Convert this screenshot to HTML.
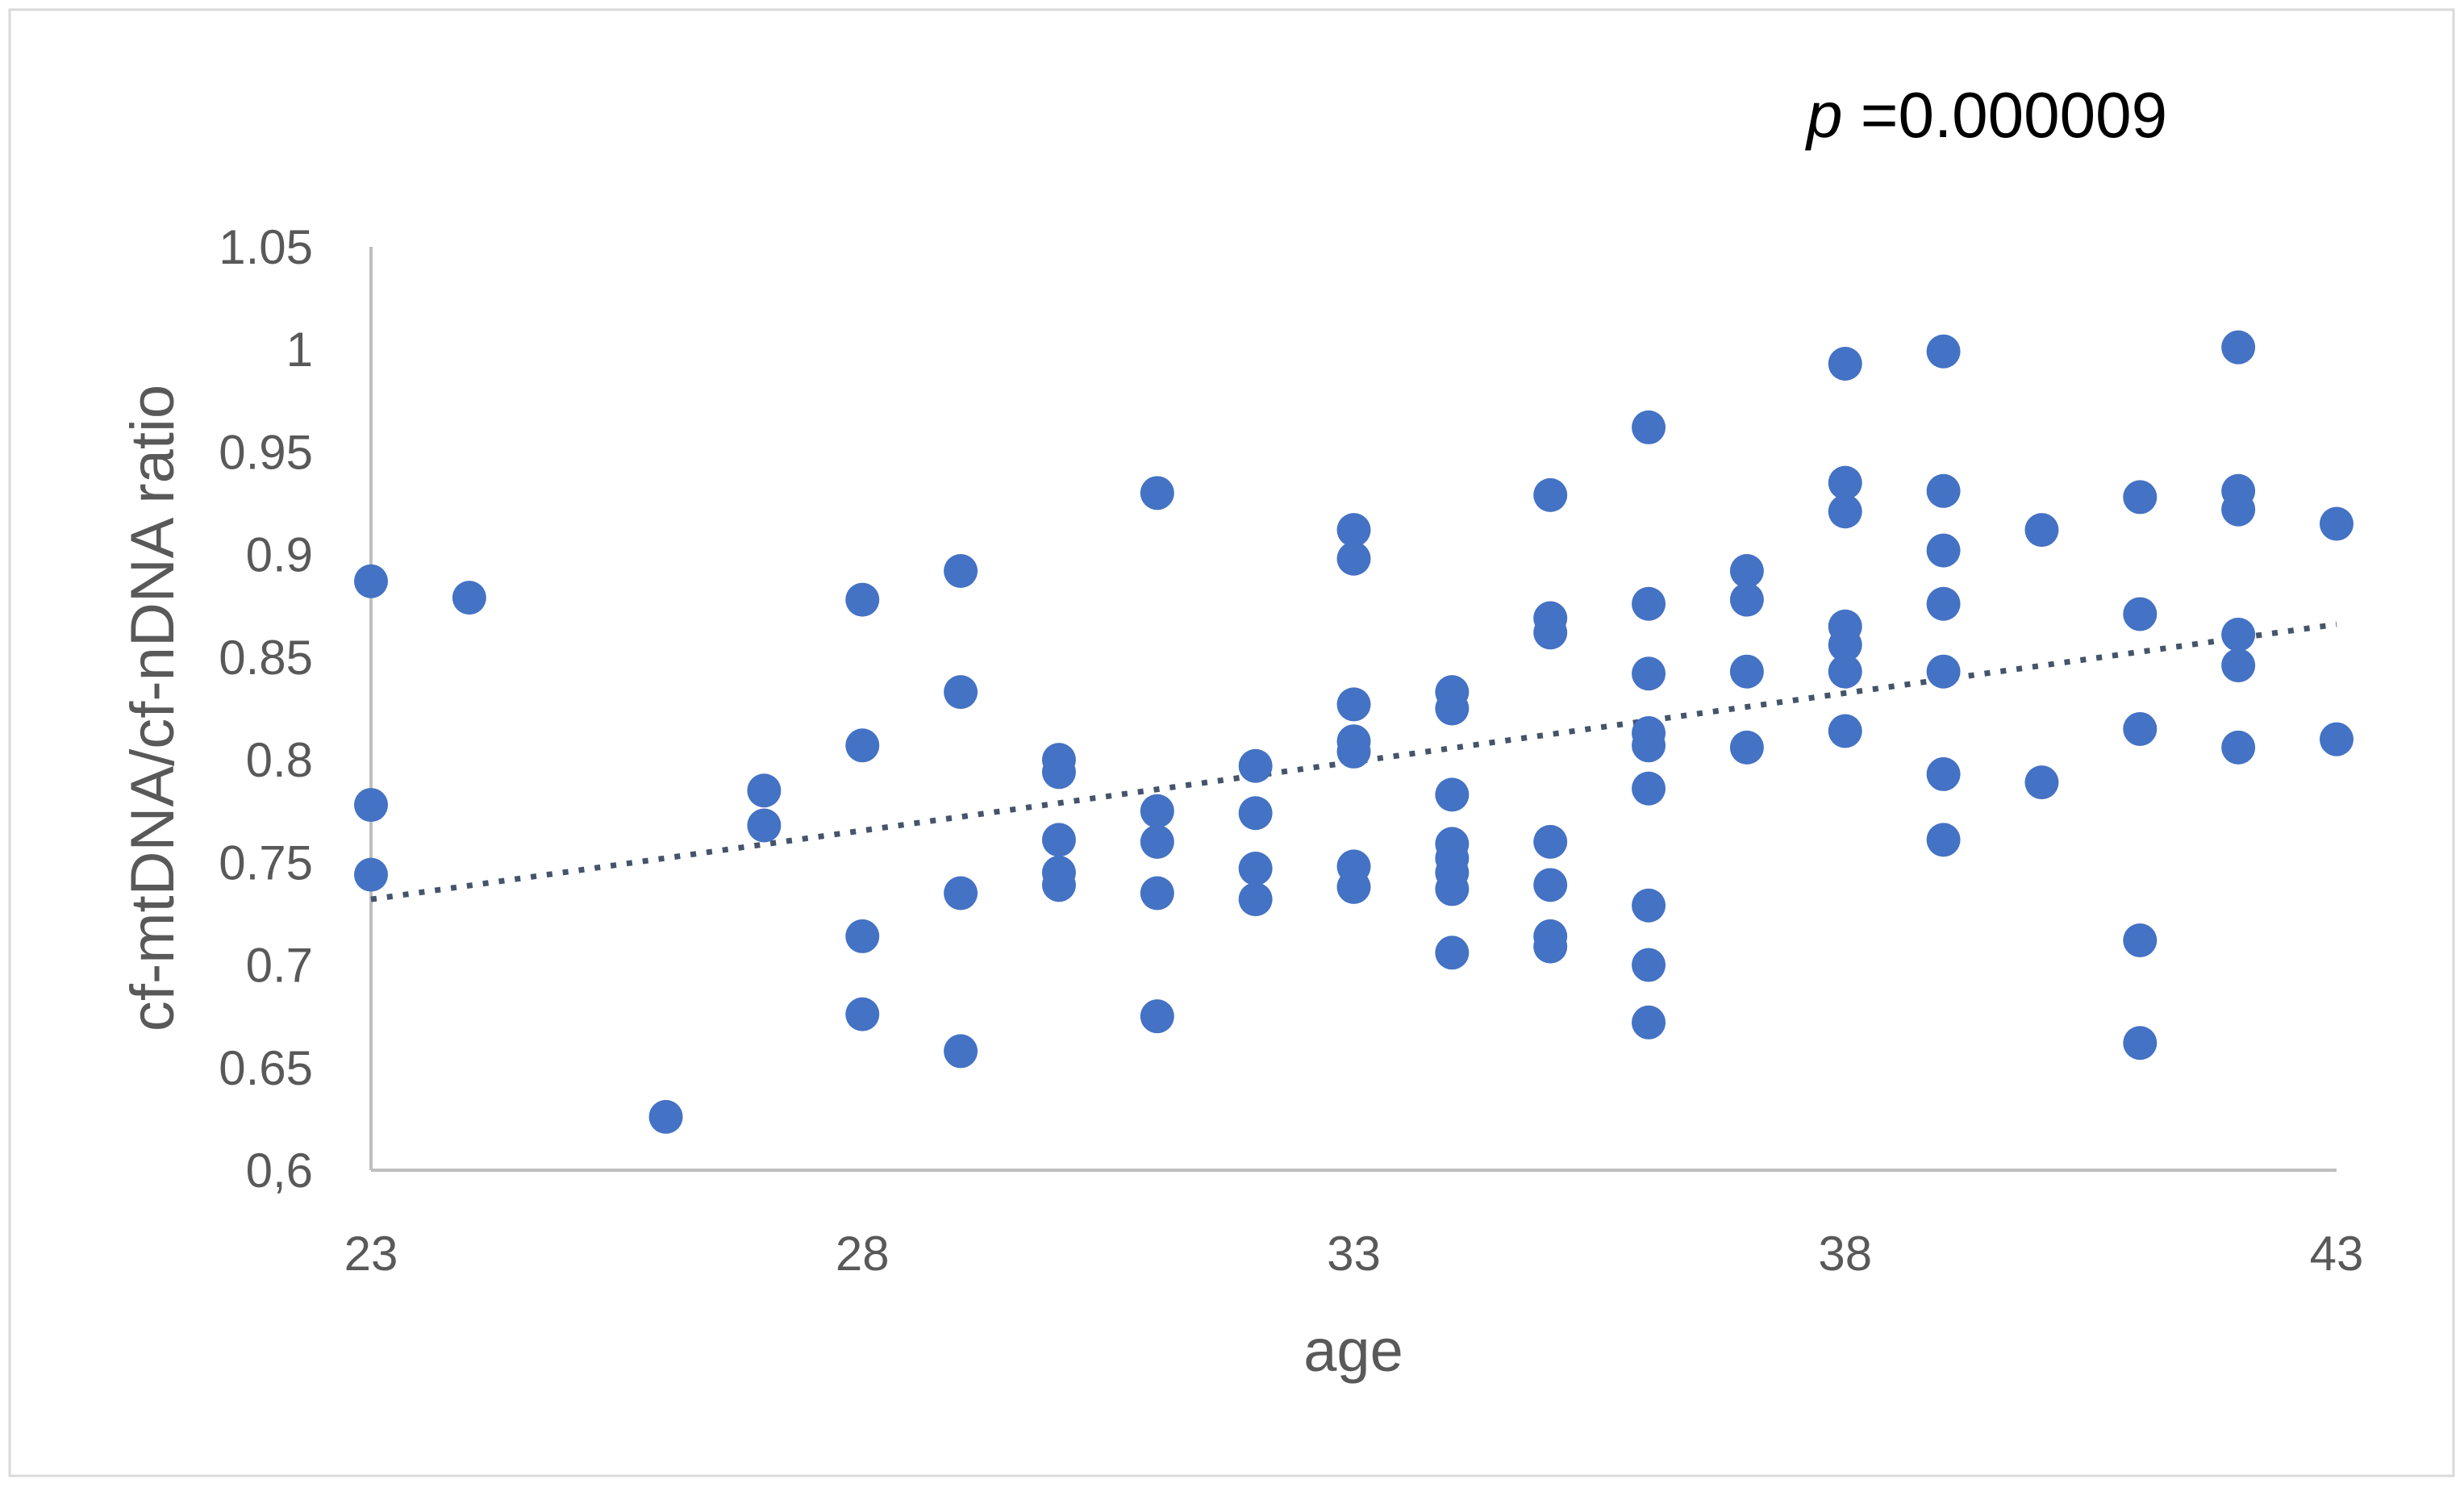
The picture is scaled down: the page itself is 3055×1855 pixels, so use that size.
<!DOCTYPE html>
<html><head><meta charset="utf-8"><style>
html,body{margin:0;padding:0;background:#fff;}
svg{display:block;}
text{font-family:"Liberation Sans",sans-serif;fill:#595959;}
</style></head><body>
<svg id="chart" width="3055" height="1855" viewBox="0 0 3055 1855" xmlns="http://www.w3.org/2000/svg">
<rect x="12" y="12" width="3030" height="1818" fill="#fff" stroke="#d9d9d9" stroke-width="3"/>
<g id="axes"></g>
<g id="trend"></g>
<g id="points"></g>
<text x="2240" y="170" font-size="80" style="fill:#000"><tspan font-style="italic">p</tspan> =0.000009</text>
<text x="1678" y="1700" font-size="74" text-anchor="middle">age</text>
<text x="0" y="0" font-size="76" text-anchor="middle" transform="translate(215,878) rotate(-90)">cf-mtDNA/cf-nDNA ratio</text>
</svg>
<script>
const xTicks=[23,28,33,38,43];
const yTicks=[0.6,0.65,0.7,0.75,0.8,0.85,0.9,0.95,1,1.05];
const yTickLabels=["0,6","0.65","0.7","0.75","0.8","0.85","0.9","0.95","1","1.05"];
const ages=[23,23,23,24,26,27,27,28,28,28,28,29,29,29,29,30,30,30,30,30,31,31,31,31,31,32,32,32,32,33,33,33,33,33,33,33,34,34,34,34,34,34,34,34,35,35,35,35,35,35,35,36,36,36,36,36,36,36,36,36,37,37,37,37,38,38,38,38,38,38,38,39,39,39,39,39,39,39,40,40,41,41,41,41,41,42,42,42,42,42,42,43,43];
const ratios=[0.887,0.778,0.744,0.879,0.626,0.785,0.768,0.878,0.807,0.714,0.676,0.892,0.833,0.735,0.658,0.800,0.794,0.761,0.745,0.739,0.930,0.775,0.760,0.735,0.675,0.797,0.774,0.747,0.732,0.912,0.898,0.827,0.809,0.804,0.748,0.738,0.833,0.825,0.783,0.759,0.752,0.745,0.737,0.706,0.929,0.869,0.862,0.760,0.739,0.714,0.709,0.962,0.876,0.842,0.813,0.807,0.786,0.729,0.700,0.672,0.892,0.878,0.843,0.806,0.993,0.935,0.921,0.865,0.856,0.843,0.814,0.999,0.931,0.902,0.876,0.843,0.793,0.761,0.912,0.789,0.928,0.871,0.815,0.712,0.662,1.001,0.931,0.922,0.861,0.846,0.806,0.915,0.810];
const trendStart=[23,0.732];
const trendEnd=[43,0.866];
const NS="http://www.w3.org/2000/svg";
const X0=460,X1=2897,Y0=1451,Y1=306;
function sx(v){return X0+(v-23)/(43-23)*(X1-X0);}
function sy(v){return Y0-(v-0.6)/(1.05-0.6)*(Y0-Y1);}
function mk(tag,attrs,parent){const e=document.createElementNS(NS,tag);for(const k in attrs)e.setAttribute(k,attrs[k]);parent.appendChild(e);return e;}
const axes=document.getElementById('axes');
let ya=mk('line',{x1:X0,y1:Y1,x2:X0,y2:Y0,stroke:'#bfbfbf','stroke-width':4},axes);


let xa=mk('line',{x1:X0,y1:Y0,x2:X1,y2:Y0,stroke:'#bfbfbf','stroke-width':4},axes);


yTicks.forEach((v,i)=>{const t=mk('text',{x:388,y:sy(v)+21,'font-size':60,'text-anchor':'end'},axes);t.textContent=yTickLabels[i];

});
xTicks.forEach(v=>{const t=mk('text',{x:sx(v),y:1575,'font-size':60,'text-anchor':'middle'},axes);t.textContent=v;

});
const tl=mk('line',{x1:sx(trendStart[0]),y1:sy(trendStart[1]),x2:sx(trendEnd[0]),y2:sy(trendEnd[1]),stroke:'#44546a','stroke-width':7,'stroke-dasharray':'7 13'},document.getElementById('trend'));


const pts=document.getElementById('points');
ages.forEach((a,i)=>{const c=mk('circle',{cx:sx(a),cy:sy(ratios[i]),r:21,fill:'#4472c4'},pts);

});
</script>
</body></html>
